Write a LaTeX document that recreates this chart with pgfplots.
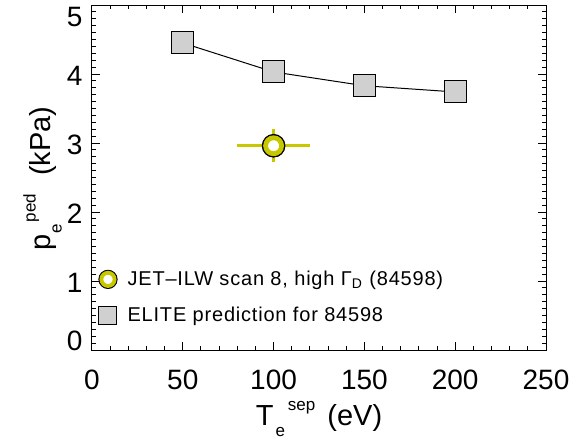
\documentclass[border=0pt]{standalone}
\usepackage{fontspec}
\setmainfont{Liberation Sans}
\usepackage{pgfplots}
\pgfplotsset{compat=1.18}
\definecolor{jy}{RGB}{200,200,0}
\definecolor{sqg}{RGB}{208,208,208}
\newcommand{\lo}[1]{\raisebox{-5.5pt}{\fontsize{8.5}{10}\selectfont #1}}
\newcommand{\hi}[1]{\raisebox{7.5pt}{\fontsize{8.5}{10}\selectfont #1}}
\begin{document}
\begin{tikzpicture}
\begin{axis}[
  at={(0,0)}, anchor=south west,
  scale only axis, width=227pt, height=172.5pt,
  xmin=0, xmax=250, ymin=0, ymax=5,
  xtick={0,50,...,250}, ytick={0,1,2,3,4,5},
  yticklabels={\raisebox{5.5pt}[\height][\depth]{0},1,2,3,4,\raisebox{-5pt}[\height][\depth]{5}},
  minor x tick num=4, minor y tick num=9,
  tick align=inside, major tick length=4pt, minor tick length=2.2pt,
  axis line style={line width=0.5pt},
  tick style={black, line width=0.5pt},
  /pgf/number format/assume math mode=true,
  ticklabel style={font=\fontsize{14}{16}\selectfont},
  xticklabel style={yshift=-6.5pt},
  yticklabel style={xshift=-1.3pt, yshift=-1pt},
  xlabel={T\hspace{1pt}\lo{e}\hspace{1.5pt}\hi{sep}\hspace{6pt}(eV)},
  ylabel={p\hspace{0.5pt}\lo{e}\hspace{1pt}\hi{ped}\hspace{9pt}(kPa)},
  label style={font=\fontsize{14.5}{17}\selectfont},
  xlabel style={at={(axis description cs:0.5,-0.22)}, anchor=base},
  ylabel style={at={(axis description cs:-0.091,0.497)}, anchor=base},
  legend style={draw=none, fill=none, at={(rel axis cs:0,0)}, anchor=south west,
    xshift=3pt, yshift=10.5pt, inner sep=0pt, column sep=3pt,
    font=\fontsize{10}{12}\selectfont\addfontfeature{LetterSpace=4}, row sep=5.5pt},
  legend cell align=left,
]
% JET-ILW measurement with error bars
\addplot[forget plot, only marks, mark=none,
  error bars/.cd, x dir=both, y dir=both, x explicit, y explicit,
  error mark=none, error bar style={jy, line width=1.5pt}]
  coordinates {(100,2.96) +- (20,0.24)};
\addplot[forget plot, only marks, mark=*, mark size=5.7pt, mark options={black}]
  coordinates {(100,2.96)};
\addplot[only marks, mark=*, mark size=4pt,
  mark options={draw=jy, fill=white, line width=2.4pt},
  legend image code/.code={
    \fill[black] (0pt,0pt) circle (4.6pt);
    \draw[jy, fill=white, line width=1.9pt] (0pt,0pt) circle (3.3pt);}]
  coordinates {(100,2.96)};
\addlegendentry{JET–ILW scan 8, high Γ\textsubscript{D} (84598)}
% ELITE prediction
\addplot[black, line width=0.5pt, mark=square*, mark size=5.5pt,
  mark options={fill=sqg, line width=0.5pt},
  legend image code/.code={
    \draw[black, fill=sqg, line width=0.5pt] (-4.5pt,-4.5pt) rectangle (4.5pt,4.5pt);}]
  coordinates {(50,4.45) (100,4.03) (150,3.83) (200,3.74)};
\addlegendentry{ELITE prediction for 84598}
\end{axis}
\pgfresetboundingbox
\path[use as bounding box] (-46pt,-44.5pt) rectangle (248pt,175pt);
\end{tikzpicture}
\end{document}
